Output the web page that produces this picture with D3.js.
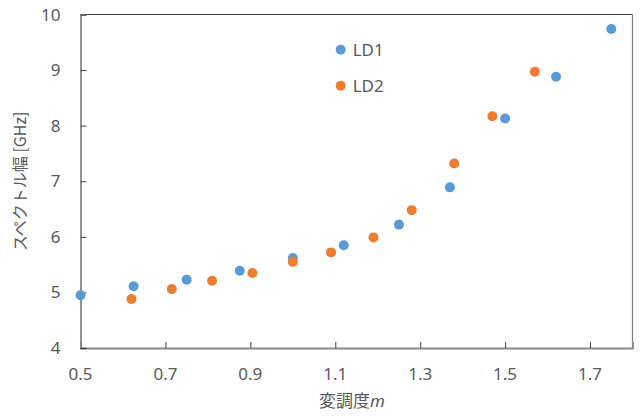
<!DOCTYPE html>
<html lang="ja">
<head>
    <meta charset="UTF-8">
    <title>スペクトル幅</title>
    <script src="https://d3js.org/d3.v7.min.js"></script>
    <style>
        body { margin: 0; background: #fff; }
        svg { display: block; }
        text { font-family: "Noto Sans", "Noto Sans CJK JP", sans-serif; fill: #595959; }
    </style>
</head>
<body>
    <svg width="640" height="416" id="mainsvg"></svg>
    <script>
        // data
        const ld1X = [0.5, 0.625, 0.75, 0.875, 1.0, 1.12, 1.25, 1.37, 1.5, 1.62, 1.75]
        const ld1Y = [4.95, 5.11, 5.23, 5.39, 5.62, 5.85, 6.22, 6.89, 8.13, 8.88, 9.74]
        const ld2X = [0.62, 0.715, 0.81, 0.905, 1.0, 1.09, 1.19, 1.28, 1.38, 1.47, 1.57]
        const ld2Y = [4.88, 5.06, 5.21, 5.35, 5.55, 5.72, 5.99, 6.48, 7.32, 8.17, 8.97]
        const xTicks = [0.5, 0.7, 0.9, 1.1, 1.3, 1.5, 1.7]
        const yTicks = [4, 5, 6, 7, 8, 9, 10]
        const seriesNames = ['LD1', 'LD2']
        const colors = ['#5b9bd5', '#ed7d31']

        const svg = d3.select('#mainsvg')
        const margin = {top: 14.5, right: 7.5, bottom: 68, left: 80.5}
        const innerWidth = 640 - margin.left - margin.right
        const innerHeight = 416 - margin.top - margin.bottom
        const g = svg.append('g').attr('transform', `translate(${margin.left}, ${margin.top})`)

        const xScale = d3.scaleLinear().domain([0.5, 1.8]).range([0, innerWidth])
        const yScale = d3.scaleLinear().domain([4, 10]).range([innerHeight, 0])

        // frame: top / right
        g.append('line').attr('x1', 0).attr('x2', innerWidth).attr('y1', 0).attr('y2', 0)
            .attr('stroke', '#404040').attr('stroke-width', 1.2)
        g.append('line').attr('x1', innerWidth).attr('x2', innerWidth).attr('y1', 0).attr('y2', innerHeight)
            .attr('stroke', '#7f7f7f').attr('stroke-width', 1.2)

        // axes: lines and inward ticks from d3, labels drawn separately
        const xAxis = d3.axisBottom(xScale).tickValues(xTicks).tickSize(-6).tickFormat('')
        const yAxis = d3.axisLeft(yScale).tickValues(yTicks).tickSize(-6).tickFormat('')

        const gx = g.append('g').attr('transform', `translate(0, ${innerHeight})`).call(xAxis)
        const gy = g.append('g').call(yAxis)
        gx.select('.domain').attr('stroke', '#898989').attr('stroke-width', 1.8)
        gy.select('.domain').attr('stroke', '#898989').attr('stroke-width', 1.8)
        g.selectAll('.tick line').attr('stroke', '#404040')
        g.selectAll('.tick text').remove()

        g.append('g').selectAll('text').data(xTicks).join('text')
            .attr('x', d => xScale(d))
            .attr('y', innerHeight + 32)
            .attr('text-anchor', 'middle')
            .attr('font-size', 17)
            .text(d3.format('.1f'))

        g.append('g').selectAll('text').data(yTicks).join('text')
            .attr('x', -20)
            .attr('y', d => yScale(d) + 6)
            .attr('text-anchor', 'end')
            .attr('font-size', 17)
            .text(d3.format('d'))

        const series = [
            d3.zip(ld1X, ld1Y),
            d3.zip(ld2X, ld2Y)
        ]
        series.forEach((pts, i) => {
            g.append('g').selectAll('circle').data(pts).join('circle')
                .attr('cx', d => xScale(d[0]))
                .attr('cy', d => yScale(d[1]))
                .attr('r', 5)
                .attr('fill', colors[i])
        })

        // legend
        const legend = svg.append('g').attr('transform', 'translate(340.7, 49.7)')
        seriesNames.forEach((name, i) => {
            const row = legend.append('g').attr('transform', `translate(0, ${i * 36})`)
            row.append('circle').attr('r', 5).attr('fill', colors[i])
            row.append('text').attr('x', 12).attr('y', 6.5).attr('font-size', 17).text(name)
        })

        // axis titles
        const xt = svg.append('text')
            .attr('x', 352)
            .attr('y', 407)
            .attr('text-anchor', 'middle')
            .attr('font-size', 17)
        xt.append('tspan').style('font-family', '"Noto Sans CJK JP", sans-serif').text('変調度')
        xt.append('tspan').attr('font-style', 'italic').text('m')

        svg.append('text')
            .attr('transform', `translate(26, ${margin.top + innerHeight / 2}) rotate(-90)`)
            .attr('text-anchor', 'middle')
            .attr('font-size', 16)
            .style('font-family', '"Noto Sans CJK JP", sans-serif')
            .text('スペクトル幅 [GHz]')
    </script>
</body>
</html>
